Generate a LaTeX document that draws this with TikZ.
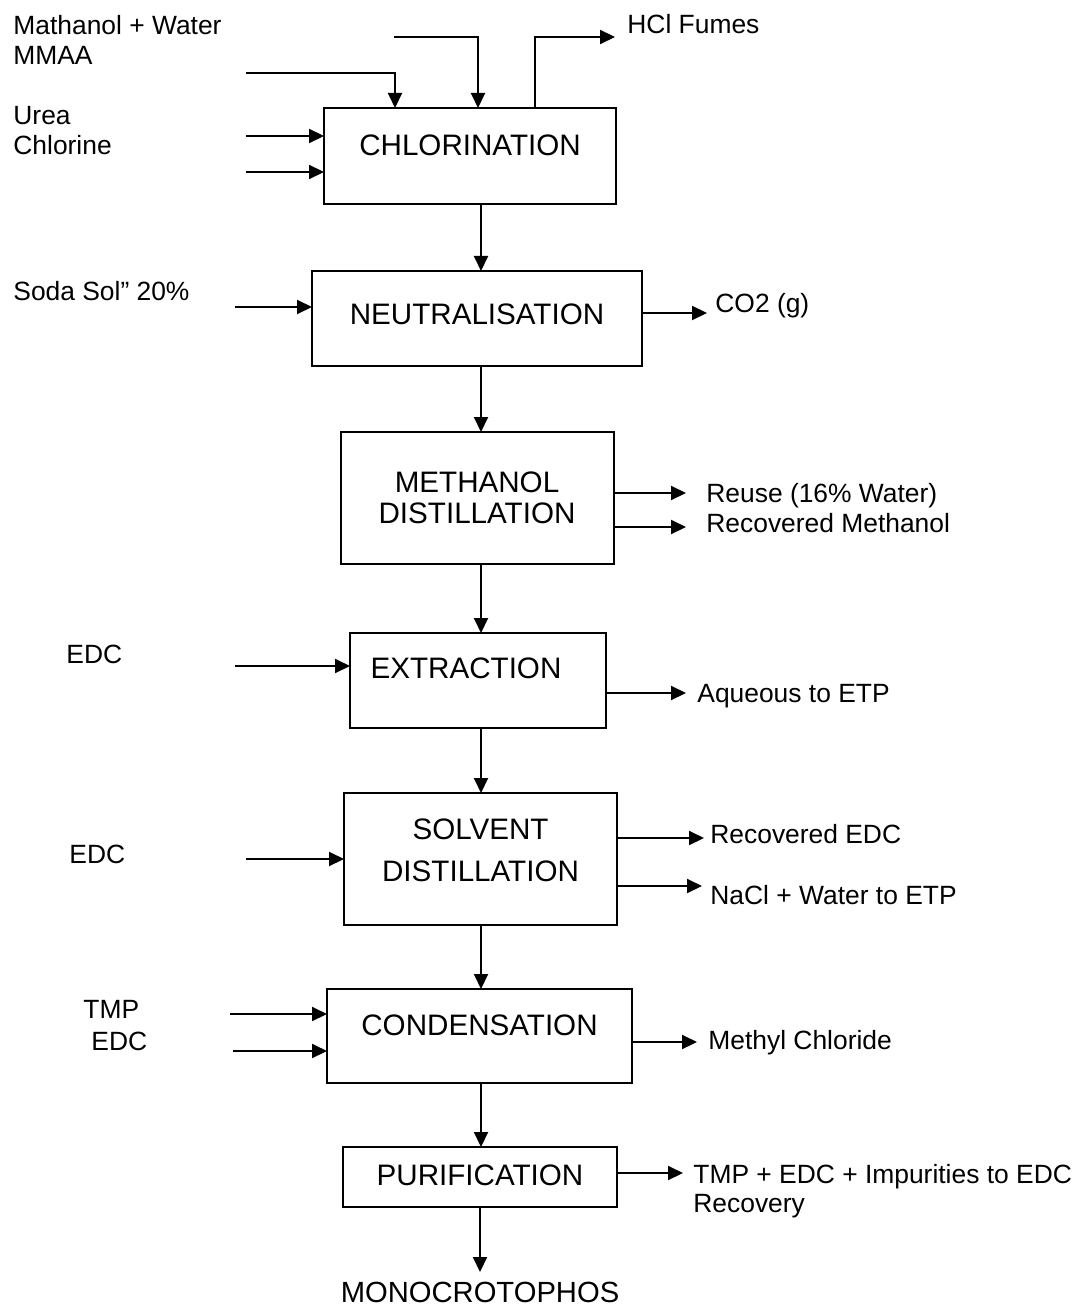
\documentclass[tikz,border=0pt]{standalone}
\usepackage{fontspec}
\setmainfont{Liberation Sans}
\usetikzlibrary{arrows.meta, positioning}

\begin{document}
\begin{tikzpicture}[
      x=0.5pt, y=-0.5pt,
      node distance=33pt,
      stage/.style={draw, line width=1pt, outer sep=0pt, align=center, inner sep=0pt, font=\fontsize{14.8}{15.5}\selectfont},
      stream/.style={inner sep=0pt, align=left, font=\fontsize{13.2}{15}\selectfont},
      flow/.style={line width=1pt, ->, >={Triangle[length=7.5pt, width=7pt]}}
    ]
      \useasboundingbox (0,0) rectangle (1075,1310);

      \node[stage, minimum width=146pt, minimum height=48pt, text depth=11pt] (chlor) at (470,156) {CHLORINATION};
      \node[stage, minimum width=165pt, minimum height=47.5pt, text depth=4.5pt, xshift=3.5pt] (neut) [below=33.5pt of chlor] {NEUTRALISATION};
      \node[stage, minimum width=136.5pt, minimum height=66pt] (meth) [below=33pt of neut] {METHANOL\\DISTILLATION};
      \node[stage, minimum width=128pt, minimum height=47.5pt, text depth=12.5pt, xshift=0.5pt] (extr) [below=34.5pt of meth] {EXTRACTION\hspace*{12pt}};
      \node[stage, minimum width=136.5pt, minimum height=66pt, xshift=1.25pt] (solv) [below=32.5pt of extr] {SOLVENT\\[5.5pt]DISTILLATION\\[-7pt]\mbox{}};
      \node[stage, minimum width=152.5pt, minimum height=47pt, text depth=11pt, xshift=-0.5pt] (cond) [below=32pt of solv] {CONDENSATION};
      \node[stage, minimum width=137pt, minimum height=30pt, text depth=2pt, xshift=0.25pt] (puri) [below=32pt of cond] {PURIFICATION};
      \node[inner sep=0pt, font=\fontsize{14.6}{15.5}\selectfont] (mono) [below=37.5pt of puri] {MONOCROTOPHOS};

      \coordinate (spine) at (481,0);
      \draw[flow] (chlor.south -| spine) -- (neut.north -| spine);
      \draw[flow] (neut.south -| spine) -- (meth.north -| spine);
      \draw[flow] (meth.south -| spine) -- (extr.north -| spine);
      \draw[flow] (extr.south -| spine) -- (solv.north -| spine);
      \draw[flow] (solv.south -| spine) -- (cond.north -| spine);
      \draw[flow] (cond.south -| spine) -- (puri.north -| spine);
      \draw[flow, shorten >=5pt] (puri) -- (mono);

      % feeds
      \node[stream, anchor=north west] (feed) at (13,14.5) {Mathanol + Water\\MMAA};
      \node[stream, anchor=north west] (urea) at (13,105.5) {Urea\\Chlorine};
      \node[stream, anchor=base west] (soda) at (13,301) {Soda Sol” 20\%};
      \node[stream, anchor=base west] (edc-a) at (66,663) {EDC};
      \node[stream, anchor=base west] (edc-b) at (69,863) {EDC};
      \node[stream, anchor=north west] (tmp) at (83,999.5) {TMP\\[1pt]\hspace*{4pt}EDC};

      \coordinate (mmaa-in) at (246,73);
      \coordinate (mw-in) at (394,37);
      \coordinate (urea-in) at (246,136);
      \coordinate (cl-in) at (246,172);
      \coordinate (soda-in) at (235,307);
      \coordinate (edc-a-in) at (235,666);
      \coordinate (edc-b-in) at (246,859);
      \coordinate (tmp-in) at (230,1014);
      \coordinate (edc-c-in) at (233,1051);

      \draw[flow] (mmaa-in) -| ([xshift=-37.5pt]chlor.north);
      \draw[flow] (mw-in) -| ([xshift=4pt]chlor.north);
      \draw[flow] (urea-in) -- (urea-in -| chlor.west);
      \draw[flow] (cl-in) -- (cl-in -| chlor.west);
      \draw[flow] (soda-in) -- (soda-in -| neut.west);
      \draw[flow] (edc-a-in) -- (edc-a-in -| extr.west);
      \draw[flow] (edc-b-in) -- (edc-b-in -| solv.west);
      \draw[flow] (tmp-in) -- (tmp-in -| cond.west);
      \draw[flow] (edc-c-in) -- (edc-c-in -| cond.west);

      % products and wastes
      \node[stream, anchor=base west] (hcl) at (627,34) {HCl Fumes};
      \node[stream, anchor=base west] (co2) at (715,313) {CO2 (g)};
      \node[stream, anchor=base west] (reuse) at (706,502) {Reuse (16\% Water)};
      \node[stream, anchor=base west] (rec-meoh) at (706,532) {Recovered Methanol};
      \node[stream, anchor=base west] (aq) at (697,702) {Aqueous to ETP};
      \node[stream, anchor=base west] (rec-edc) at (710,843) {Recovered EDC};
      \node[stream, anchor=base west] (nacl) at (710,904) {NaCl + Water to ETP};
      \node[stream, anchor=base west] (mecl) at (708,1049) {Methyl Chloride};
      \node[stream, anchor=north west] (residue) at (693,1163.5) {TMP + EDC + Impurities to EDC\\[-0.5pt]Recovery};

      \coordinate (hcl-out) at (615,37);
      \coordinate (co2-out) at (707,313);
      \coordinate (reuse-out) at (686,493);
      \coordinate (rec-meoh-out) at (686,527);
      \coordinate (aq-out) at (686,693);
      \coordinate (rec-edc-out) at (704,838);
      \coordinate (nacl-out) at (702,886);
      \coordinate (mecl-out) at (697,1042);
      \coordinate (residue-out) at (683,1173);

      \draw[flow] ([xshift=32.5pt]chlor.north) |- (hcl-out);
      \draw[flow] (co2-out -| neut.east) -- (co2-out);
      \draw[flow] (reuse-out -| meth.east) -- (reuse-out);
      \draw[flow] (rec-meoh-out -| meth.east) -- (rec-meoh-out);
      \draw[flow] (aq-out -| extr.east) -- (aq-out);
      \draw[flow] (rec-edc-out -| solv.east) -- (rec-edc-out);
      \draw[flow] (nacl-out -| solv.east) -- (nacl-out);
      \draw[flow] (mecl-out -| cond.east) -- (mecl-out);
      \draw[flow] (residue-out -| puri.east) -- (residue-out);
    \end{tikzpicture}
\end{document}
